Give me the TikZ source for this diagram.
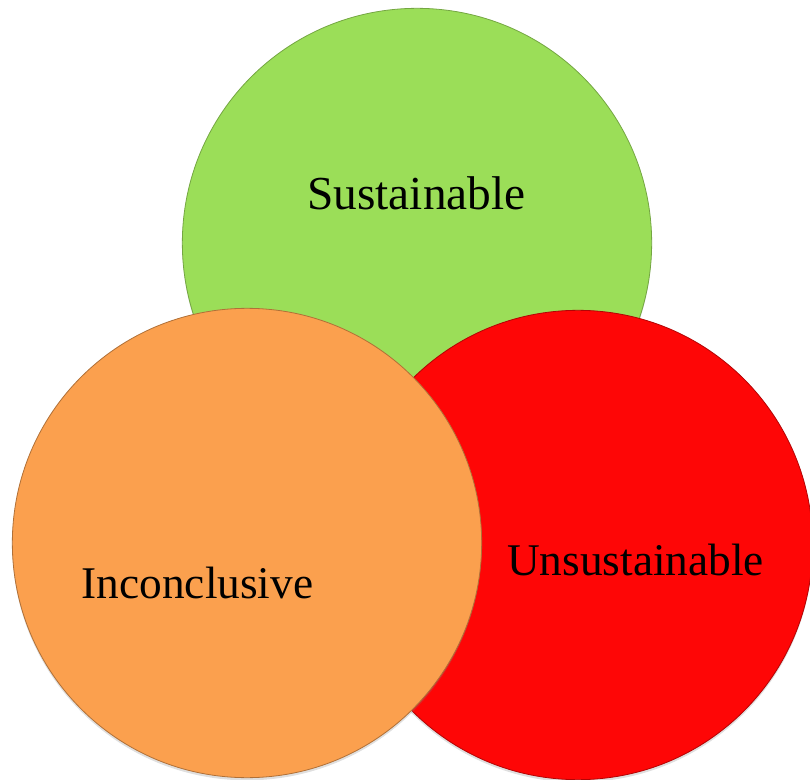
\documentclass[tikz,border=0pt]{standalone}
\usepackage{fontspec}
\setmainfont{Liberation Serif}
\usetikzlibrary{shadows}

\definecolor{sustgreen}{RGB}{155,222,88}
\definecolor{inconcorange}{RGB}{251,160,78}
\definecolor{unsustred}{RGB}{254,6,6}

\tikzset{
  bubble/.style={circle, inner sep=0pt, minimum size=352pt, line width=0.6pt,
    drop shadow={opacity=0.25, shadow xshift=0pt, shadow yshift=-2pt}},
  bubbletext/.style={anchor=base, inner sep=0.75pt, font=\fontsize{34}{41}\selectfont}
}

\begin{document}
\begin{tikzpicture}[x=0.75pt,y=0.75pt,yscale=-1,xscale=1]
        \useasboundingbox (0,0) rectangle (810,780);

        %Shape: Circle [green, back]
        \node [bubble, fill=sustgreen, draw=sustgreen!75!black] (sust) at (417,243) {};
        %Shape: Circle [red, middle]
        \node [bubble, fill=unsustred, draw=unsustred!70!black] (unsust) at (578,545) {};
        %Shape: Circle [orange, front]
        \node [bubble, fill=inconcorange, draw=inconcorange!70!black] (inconc) at (247,543) {};

        % Text Node
        \node [bubbletext, font=\fontsize{35.5}{42}\selectfont] (sustlabel) at (416.5,210) {Sustainable};
        % Text Node
        \node [bubbletext] (unsustlabel) at (635.5,575) {Unsustainable};
        % Text Node
        \node [bubbletext] (inconclabel) at (197.5,598) {Inconclusive};

\end{tikzpicture}
\end{document}
